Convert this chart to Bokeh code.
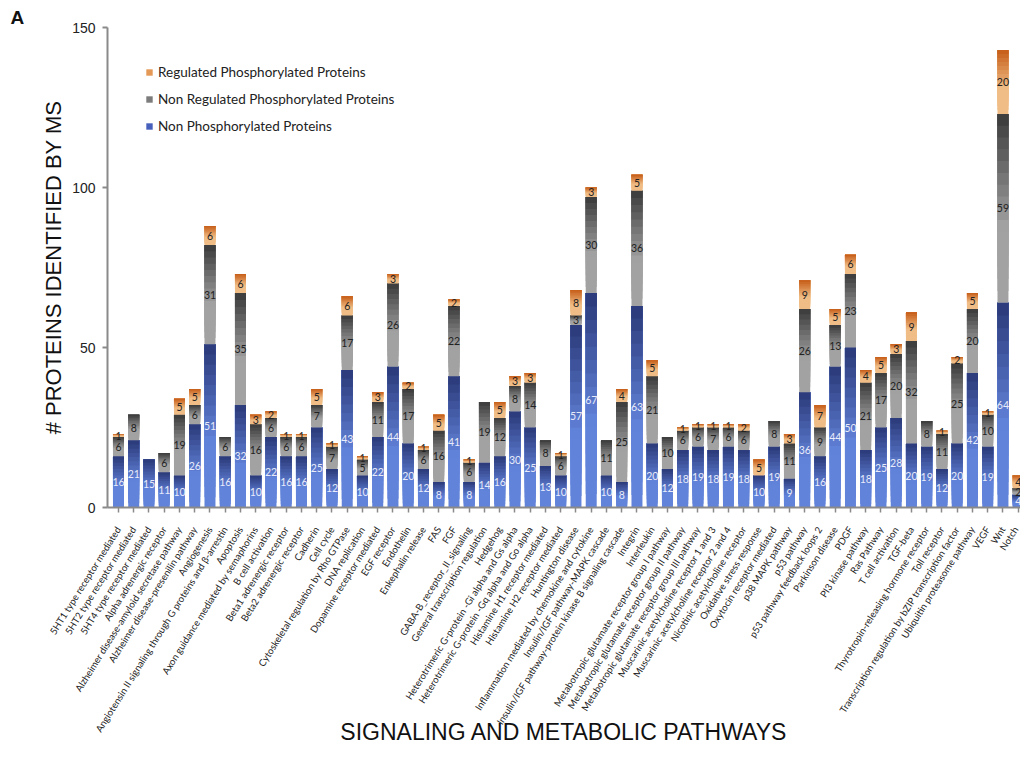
import numpy as np
from bokeh.plotting import figure
from bokeh.models import Range1d, FixedTicker, Legend, LegendItem, ColumnDataSource, Title
from bokeh.core.properties import value
from bokeh.embed import file_html
from bokeh.resources import INLINE

pathways = [
    "5HT1 type receptor mediated", "5HT2 type receptor mediated", "5HT4 type receptor mediated",
    "Alpha adrenergic receptor", "Alzheimer disease-amyloid secretase pathway",
    "Alzheimer disease-presenilin pathway", "Angiogenesis",
    "Angiotensin II signaling through G proteins and \u03b2-arrestin", "Apoptosis",
    "Axon guidance mediated by semaphorins", "B cell activation", "Beta1 adrenergic receptor",
    "Beta2 adrenergic receptor", "Cadherin", "Cell cycle", "Cytoskeletal regulation by Rho GTPase",
    "DNA replication", "Dopamine receptor mediated", "EGF receptor", "Endothelin",
    "Enkephalin release", "FAS", "FGF", "GABA-B_receptor_II_signaling",
    "General transcription regulation", "Hedgehog",
    "Heterotrimeric G-protein -Gi alpha and Gs alpha", "Heterotrimeric G-protein -Gq alpha and Go alpha",
    "Histamine H1 receptor mediated", "Histamine H2 receptor mediated", "Huntington disease",
    "Inflammation mediated by chemokine and cytokine", "Insulin/IGF pathway-MAPK cascade",
    "Insulin/IGF pathway-protein kinase B signaling cascade", "Integrin", "Interleukin",
    "Metabotropic glutamate receptor group I pathway", "Metabotropic glutamate receptor group II pathway",
    "Metabotropic glutamate receptor group III pathway", "Muscarinic acetylcholine receptor 1 and 3",
    "Muscarinic acetylcholine receptor 2 and 4", "Nicotinic acetylcholine receptor",
    "Oxidative stress response", "Oxytocin receptor mediated", "p38 MAPK pathway", "p53 pathway",
    "p53 pathway feedback loops 2", "Parkinson disease", "PDGF", "PI3 kinase pathway", "Ras Pathway",
    "T cell activation", "TGF-beta", "Thyrotropin-releasing hormone receptor", "Toll receptor",
    "Transcription regulation by bZIP transcription factor", "Ubiquitin proteasome pathway",
    "VEGF", "Wnt", "Notch",
]

non_phosphorylated = [16, 21, 15, 11, 10, 26, 51, 16, 32, 10, 22, 16, 16, 25, 12, 43, 10, 22, 44, 20,
                      12, 8, 41, 8, 14, 16, 30, 25, 13, 10, 57, 67, 10, 8, 63, 20, 12, 18, 19, 18,
                      19, 18, 10, 19, 9, 36, 16, 44, 50, 18, 25, 28, 20, 19, 12, 20, 42, 19, 64, 4]
non_regulated_phospho = [6, 8, 0, 6, 19, 6, 31, 6, 35, 16, 6, 6, 6, 7, 7, 17, 5, 11, 26, 17,
                         6, 16, 22, 6, 19, 12, 8, 14, 8, 6, 3, 30, 11, 25, 36, 21, 10, 6, 6, 7,
                         6, 6, 0, 8, 11, 26, 9, 13, 23, 21, 17, 20, 32, 8, 11, 25, 20, 10, 59, 2]
regulated_phospho = [1, 0, 0, 0, 5, 5, 6, 0, 6, 3, 2, 1, 1, 5, 1, 6, 1, 3, 3, 2,
                     1, 5, 2, 1, 0, 5, 3, 3, 0, 1, 8, 3, 0, 4, 5, 5, 0, 1, 1, 1,
                     1, 2, 5, 0, 3, 9, 7, 5, 6, 4, 5, 3, 9, 0, 1, 2, 5, 1, 20, 4]

series_labels = ["Non Phosphorylated Proteins", "Non Regulated Phosphorylated Proteins",
                 "Regulated Phosphorylated Proteins"]
y_ticks = [0, 50, 100, 150]

# styles
GRAD = [("#2a3877", "#6283da"), ("#3a3a3a", "#a2a2a2"), ("#c55c16", "#f0bd86")]
LEGEND_COLORS = ["#4760bb", "#7c7c7c", "#e49a56"]
TEXT_COLORS = ["#e8ebfa", "#222222", "#222222"]
BAR_W = 0.72
NBANDS = 16


def hex2rgb(h):
    h = h.lstrip("#")
    return np.array([int(h[i:i + 2], 16) for i in (0, 2, 4)], dtype=float)


def rgb2hex(c):
    return "#%02x%02x%02x" % tuple(int(round(v)) for v in c)


n = len(pathways)
stack = [np.array(non_phosphorylated, float), np.array(non_regulated_phospho, float),
         np.array(regulated_phospho, float)]

p = figure(width=1020, height=748, output_backend="svg", toolbar_location=None,
           x_range=Range1d(-0.72, 59.15), y_range=Range1d(0, 150),
           min_border_left=107, min_border_right=0, min_border_top=27, min_border_bottom=241)
p.outline_line_color = None
p.xgrid.visible = False
p.ygrid.visible = False

p.title = Title(text="A", align="left", offset=-97, standoff=0,
                text_font="Liberation Sans", text_font_size="19px", text_font_style="bold",
                text_color="#111111")

bottom = np.zeros(n)
label_x, label_y, label_t, label_c = [], [], [], []
for si, vals in enumerate(stack):
    dark, light = hex2rgb(GRAD[si][0]), hex2rgb(GRAD[si][1])
    bx, bb, bt, bc = [], [], [], []
    for i in range(n):
        v = vals[i]
        if v <= 0:
            continue
        b0, t0 = bottom[i], bottom[i] + v
        for k in range(NBANDS):
            frac_top = 1 - (k + 0.5) / NBANDS
            tt = min(frac_top / 0.6, 1.0)
            col = dark + (light - dark) * tt
            bx.append(i)
            bb.append(b0 + v * k / NBANDS)
            bt.append(t0)
            bc.append(rgb2hex(col))
        label_x.append(i)
        label_y.append(b0 + v / 2)
        label_t.append(str(int(v)))
        label_c.append(TEXT_COLORS[si])
    p.vbar(x="x", bottom="b", top="t", width=BAR_W, fill_color="c", line_color=None,
           source=ColumnDataSource(dict(x=bx, b=bb, t=bt, c=bc)))
    bottom = bottom + vals

p.text(x="x", y="y", text="t", text_color="c",
       source=ColumnDataSource(dict(x=label_x, y=label_y, t=label_t, c=label_c)),
       text_align="center", text_baseline="middle", text_font=value("Lato"),
       text_font_size="10.5px")

# legend proxies (zero-height bars, only their swatches are shown)
legend_items = []
for si in [2, 1, 0]:
    r = p.vbar(x=[0], bottom=[0], top=[0], width=BAR_W, fill_color=LEGEND_COLORS[si],
               line_color=None)
    legend_items.append(LegendItem(label=series_labels[si], renderers=[r]))
legend = Legend(items=legend_items, location=(38, 371), label_text_font="Lato",
                label_text_font_size="13.5px", label_text_color="#222222",
                glyph_width=8, glyph_height=8, label_height=20, spacing=7,
                padding=0, margin=0, border_line_alpha=0, background_fill_alpha=0,
                label_standoff=5)
p.add_layout(legend)

# axes
p.yaxis.ticker = FixedTicker(ticks=y_ticks)
p.yaxis.major_label_text_font = "Liberation Sans"
p.yaxis.major_label_text_font_size = "14px"
p.yaxis.major_label_text_color = "#222222"
p.yaxis.axis_line_color = "#8a8a8a"
p.yaxis.axis_line_width = 2
p.yaxis.major_tick_line_color = "#8a8a8a"
p.yaxis.major_tick_line_width = 2
p.yaxis.major_tick_out = 5
p.yaxis.major_tick_in = 0
p.yaxis.minor_tick_line_color = None
p.yaxis.major_label_standoff = 7
p.yaxis.axis_label = "# PROTEINS IDENTIFIED BY MS"
p.yaxis.axis_label_text_font = "Liberation Sans"
p.yaxis.axis_label_text_font_size = "22px"
p.yaxis.axis_label_text_font_style = "normal"
p.yaxis.axis_label_text_color = "#111111"
p.yaxis.axis_label_standoff = 3

p.xaxis.ticker = FixedTicker(ticks=list(range(n)))
p.xaxis.major_label_overrides = {i: name for i, name in enumerate(pathways)}
p.xaxis.major_label_orientation = np.deg2rad(58)
p.xaxis.major_label_text_font = "Lato"
p.xaxis.major_label_text_font_size = "9.6px"
p.xaxis.major_label_text_color = "#222222"
p.xaxis.axis_line_color = "#8a8a8a"
p.xaxis.axis_line_width = 2
p.xaxis.major_tick_line_color = "#8a8a8a"
p.xaxis.major_tick_line_width = 1.5
p.xaxis.major_tick_out = 5
p.xaxis.major_tick_in = 0
p.xaxis.minor_tick_line_color = None
p.xaxis.major_label_standoff = 15
p.xaxis.axis_label = "SIGNALING AND METABOLIC PATHWAYS"
p.xaxis.axis_label_text_font = "Liberation Sans"
p.xaxis.axis_label_text_font_size = "23px"
p.xaxis.axis_label_text_font_style = "normal"
p.xaxis.axis_label_text_color = "#111111"
p.xaxis.axis_label_standoff = -21

open("out.html", "w").write(file_html(p, INLINE))
